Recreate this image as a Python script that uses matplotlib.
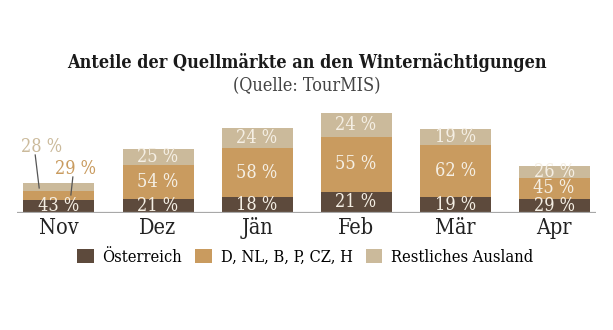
import matplotlib
matplotlib.use("Agg")
import matplotlib.pyplot as plt
from matplotlib.patches import Patch
from matplotlib import font_manager as fm
import numpy as np

months = ["Nov", "Dez", "Jän", "Feb", "Mär", "Apr"]
totals = [30, 64, 85, 100, 84, 47]          # relative bar heights (index, Feb = 100)
pct_at = [43, 21, 18, 21, 19, 29]           # Österreich
pct_dnl = [29, 54, 58, 55, 62, 45]          # D, NL, B, P, CZ, H
pct_rest = [28, 25, 24, 24, 19, 26]         # Restliches Ausland
series_names = ["Österreich", "D, NL, B, P, CZ, H", "Restliches Ausland"]

colors = ["#5d4a3c", "#c99b5f", "#cbba9b"]
label_color = "#f5efe4"
FONT = "DejaVu Serif"

# use condensed DejaVu Serif if installed
cond = [f for f in fm.fontManager.ttflist if "DejaVuSerifCondensed" in f.fname.replace("-", "")]
cond_regular = next((f.fname for f in cond if "Bold" not in f.fname and "Italic" not in f.fname), None)
cond_bold = next((f.fname for f in cond if f.fname.endswith("Condensed-Bold.ttf")), None)

def fp(size, bold=False):
    path = cond_bold if bold else cond_regular
    if path:
        return fm.FontProperties(fname=path, size=size)
    return fm.FontProperties(family=FONT, size=size * 0.9, weight="bold" if bold else "normal")

W, H = 613, 330
fig = plt.figure(figsize=(W / 100, H / 100), dpi=100)
x0, x1 = 16.7, 595.7
ybase, ytop = 212.7, 102.7
ax = fig.add_axes([x0 / W, 1 - ybase / H, (x1 - x0) / W, (ybase - ytop) / H])

x = np.arange(len(months))
tot = np.array(totals, dtype=float)
pcts = [np.array(pct_at), np.array(pct_dnl), np.array(pct_rest)]
bottom = np.zeros(len(months))
for i, p in enumerate(pcts):
    seg = tot * p / 100.0
    ax.bar(x, seg, bottom=bottom, width=0.717, color=colors[i], linewidth=0)
    for j in range(len(months)):
        if j == 0 and i > 0:
            continue
        ax.text(x[j], bottom[j] + seg[j] / 2, f"{p[j]} %", ha="center", va="center",
                color=label_color, fontproperties=fp(13))
    bottom += seg

# Nov outside labels with leader lines
ax.text(-0.18, 65.7, f"{pct_rest[0]} %", ha="center", va="center",
        color=colors[2], fontproperties=fp(13))
ax.plot([-0.24, -0.20], [57.7, 24.7], color="#555555", lw=0.9)
ax.text(0.17, 43.7, f"{pct_dnl[0]} %", ha="center", va="center",
        color=colors[1], fontproperties=fp(13))
ax.plot([0.14, 0.12], [35.7, 17.7], color="#555555", lw=0.9)

ax.set_xlim(-0.427, 5.42)
ax.set_ylim(0, 110)
ax.axhline(0, color="#a8a8a8", lw=1.6)
for s in ax.spines.values():
    s.set_visible(False)
ax.set_yticks([])
ax.set_xticks(x)
ax.set_xticklabels(months, color="#222222")
for t in ax.get_xticklabels():
    t.set_fontproperties(fp(15.5))
ax.tick_params(axis="x", length=0, pad=3)

fig.text(0.5, 1 - 62 / H, "Anteile der Quellmärkte an den Winternächtigungen",
         ha="center", va="center", fontproperties=fp(13, bold=True), color="#1a1a1a")
fig.text(0.5, 1 - 86 / H, "(Quelle: TourMIS)", ha="center", va="center",
         fontproperties=fp(13), color="#444444")

handles = [Patch(facecolor=c, edgecolor="none") for c in colors]
fig.legend(handles, series_names, loc="center", bbox_to_anchor=(0.498, 1 - 257 / H),
           ncol=3, frameon=False, prop=fp(11.8),
           handlelength=1.0, handleheight=1.0, handletextpad=0.55, columnspacing=0.8)

fig.savefig("out.png", dpi=100)
